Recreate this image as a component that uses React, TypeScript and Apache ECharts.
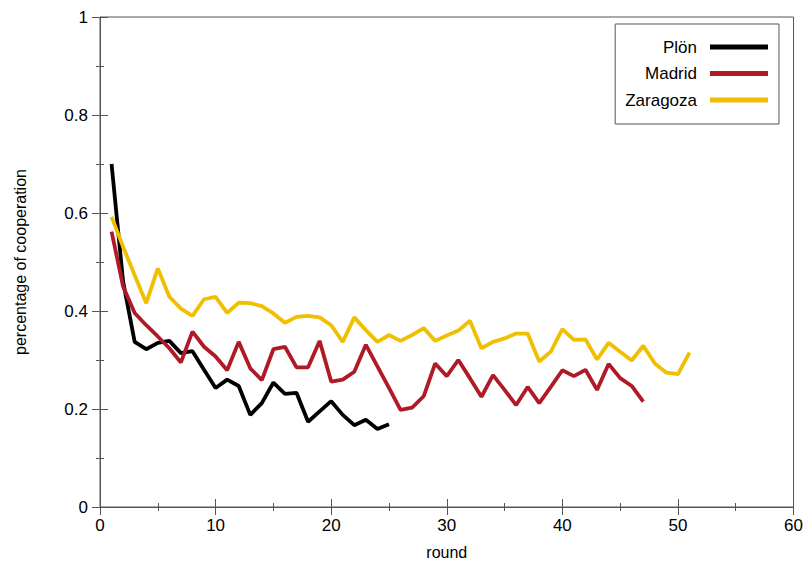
import React, { useEffect, useRef } from "react";
import * as echarts from "echarts";

const plonValues = [0.70, 0.46, 0.337, 0.322, 0.335, 0.339, 0.314, 0.318, 0.28, 0.243, 0.26, 0.247, 0.188, 0.212, 0.254, 0.231, 0.233, 0.174, 0.195, 0.216, 0.188, 0.167, 0.178, 0.159, 0.169];
const madridValues = [0.562, 0.45, 0.396, 0.371, 0.348, 0.324, 0.295, 0.358, 0.327, 0.307, 0.279, 0.337, 0.283, 0.259, 0.322, 0.327, 0.285, 0.285, 0.339, 0.256, 0.26, 0.276, 0.331, 0.287, 0.243, 0.198, 0.203, 0.226, 0.293, 0.267, 0.3, 0.263, 0.225, 0.269, 0.239, 0.208, 0.245, 0.212, 0.245, 0.279, 0.267, 0.28, 0.239, 0.292, 0.263, 0.247, 0.215];
const zaragozaValues = [0.592, 0.531, 0.473, 0.416, 0.487, 0.429, 0.405, 0.39, 0.424, 0.429, 0.396, 0.417, 0.416, 0.41, 0.395, 0.376, 0.388, 0.39, 0.387, 0.371, 0.337, 0.387, 0.361, 0.337, 0.351, 0.339, 0.351, 0.365, 0.339, 0.35, 0.36, 0.38, 0.324, 0.337, 0.344, 0.354, 0.354, 0.297, 0.317, 0.363, 0.341, 0.342, 0.301, 0.335, 0.317, 0.299, 0.329, 0.293, 0.274, 0.271, 0.315];

const seriesNames = ["Plön", "Madrid", "Zaragoza"];
const seriesColors = ["#000000", "#b01a27", "#efbf00"];

const toPoints = (vals: number[]) => vals.map((v, i) => [i + 1, v]);

export default function App() {
  const ref = useRef<HTMLDivElement>(null);
  useEffect(() => {
    if (!ref.current) return;
    const chart = echarts.init(ref.current, null, { renderer: "svg" });
    const font = "Liberation Sans, Arial, sans-serif";
    const axisColor = "#555";
    const allValues = [plonValues, madridValues, zaragozaValues];
    chart.setOption({
      animation: false,
      grid: {
        left: 100,
        right: 11,
        top: 17,
        bottom: 63,
        show: true,
        borderColor: axisColor,
        borderWidth: 1,
      },
      legend: {
        orient: "vertical",
        right: 27,
        top: 24,
        align: "right",
        padding: [14, 11, 15, 10],
        itemGap: 8.5,
        itemWidth: 58,
        itemHeight: 5,
        icon: "rect",
        borderColor: axisColor,
        borderWidth: 1,
        backgroundColor: "#fff",
        textStyle: {
          fontFamily: font,
          fontSize: 17,
          lineHeight: 18,
          color: "#000",
          padding: [0, 8, 0, 0],
        },
        data: seriesNames,
      },
      xAxis: [
        {
          type: "value",
          min: 0,
          max: 60,
          interval: 10,
          name: "round",
          nameLocation: "middle",
          nameGap: 37,
          nameTextStyle: { fontFamily: font, fontSize: 16, color: "#000" },
          axisLine: { show: true, lineStyle: { color: axisColor } },
          axisTick: { show: true, inside: true, length: 8, lineStyle: { color: axisColor } },
          minorTick: { show: true, splitNumber: 2, length: 4, lineStyle: { color: axisColor } },
          splitLine: { show: false },
          axisLabel: { fontFamily: font, fontSize: 17, color: "#000", margin: 10 },
        },
        {
          type: "value",
          position: "top",
          min: 0,
          max: 60,
          interval: 10,
          axisLine: { show: false },
          axisTick: { show: true, inside: true, length: 8, lineStyle: { color: axisColor } },
          minorTick: { show: true, splitNumber: 2, length: 4, lineStyle: { color: axisColor } },
          splitLine: { show: false },
          axisLabel: { show: false },
        },
      ],
      yAxis: [
        {
          type: "value",
          min: 0,
          max: 1,
          interval: 0.2,
          name: "percentage of cooperation",
          nameLocation: "middle",
          nameGap: 72,
          nameTextStyle: { fontFamily: font, fontSize: 16, color: "#000" },
          axisLine: { show: true, lineStyle: { color: axisColor } },
          axisTick: { show: true, inside: true, length: 8, lineStyle: { color: axisColor } },
          minorTick: { show: true, splitNumber: 2, length: 4, lineStyle: { color: axisColor } },
          splitLine: { show: false },
          axisLabel: { fontFamily: font, fontSize: 17, color: "#000", margin: 12, formatter: (v: number) => String(Math.round(v * 10) / 10) },
        },
        {
          type: "value",
          position: "right",
          min: 0,
          max: 1,
          interval: 0.2,
          axisLine: { show: false },
          axisTick: { show: true, inside: true, length: 8, lineStyle: { color: axisColor } },
          minorTick: { show: true, splitNumber: 2, length: 4, lineStyle: { color: axisColor } },
          splitLine: { show: false },
          axisLabel: { show: false },
        },
      ],
      series: seriesNames.map((name, i) => ({
        name,
        type: "line",
        data: toPoints(allValues[i]),
        showSymbol: false,
        symbol: "none",
        color: seriesColors[i],
        lineStyle: { width: 3.8, color: seriesColors[i] },
      })),
    });
    return () => chart.dispose();
  }, []);
  return <div ref={ref} style={{ width: 806, height: 570, position: "absolute", left: 0, top: 0 }} />;
}
